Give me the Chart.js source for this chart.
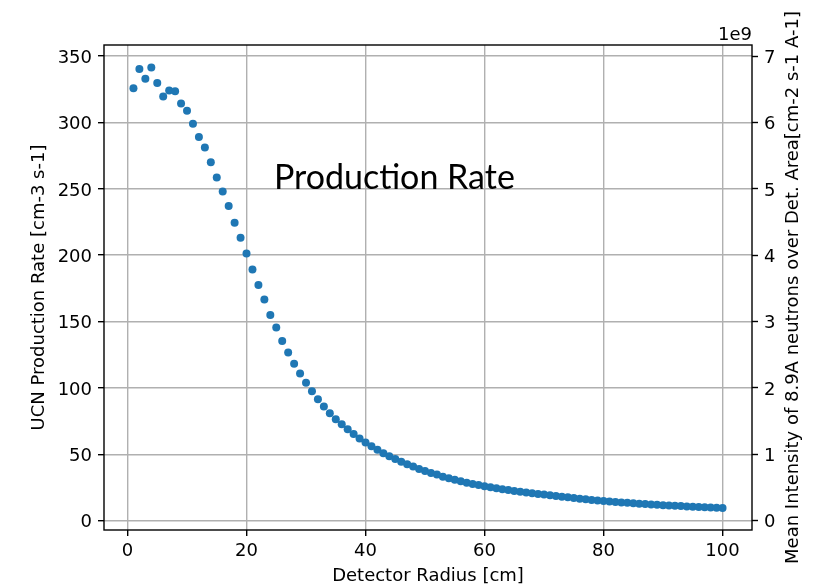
<!DOCTYPE html>
<html>
<head>
<meta charset="utf-8">
<script src="https://cdn.jsdelivr.net/npm/chart.js@4/dist/chart.umd.min.js"></script>
<style>
  html, body { margin: 0; padding: 0; background: #fff; }
  canvas { display: block; }
</style>
</head>
<body>
<canvas id="c" width="826" height="587"></canvas>
<script>
// ---- data ----
const radius = [1,2,3,4,5,6,7,8,9,10,11,12,13,14,15,16,17,18,19,20,
  21,22,23,24,25,26,27,28,29,30,31,32,33,34,35,36,37,38,39,40,
  41,42,43,44,45,46,47,48,49,50,51,52,53,54,55,56,57,58,59,60,
  61,62,63,64,65,66,67,68,69,70,71,72,73,74,75,76,77,78,79,80,
  81,82,83,84,85,86,87,88,89,90,91,92,93,94,95,96,97,98,99,100];
const productionRate = [325.9,340.4,332.9,341.4,329.7,319.6,324.1,323.6,314.3,308.8,
  299.0,289.0,281.1,270.1,258.5,248.0,237.0,224.4,213.2,201.2,
  189.2,177.6,166.6,155.0,145.5,135.4,126.6,118.1,110.8,103.8,
  97.5,91.5,85.9,80.9,76.4,72.6,68.9,65.3,61.8,58.8,
  56.1,53.3,50.8,48.5,46.5,44.4,42.5,40.7,38.9,37.4,
  35.9,34.7,33.1,31.9,30.7,29.7,28.6,27.6,26.8,25.9,
  25.2,24.4,23.7,23.0,22.3,21.7,21.1,20.6,20.1,19.6,
  19.05,18.5,18.0,17.5,17.0,16.5,16.05,15.6,15.2,14.8,
  14.4,14.05,13.7,13.35,13.0,12.7,12.4,12.1,11.85,11.6,
  11.35,11.1,10.9,10.7,10.5,10.3,10.1,9.9,9.7,9.5];
const xTicks = [0,20,40,60,80,100];
const yTicks = [0,50,100,150,200,250,300,350];
const y2Ticks = [0,1,2,3,4,5,6,7];
const xLimits = [-3.95, 104.95];
const yLimits = [-7.1, 358.4];
const y2PerY = 0.02;            // right axis (x1e9) per left-axis unit
const xLabel = 'Detector Radius [cm]';
const yLabel = 'UCN Production Rate [cm-3 s-1]';
const y2Label = 'Mean Intensity of 8.9A neutrons over Det. Area[cm-2 s-1 A-1]';
const annotationText = 'Production Rate';
const annotationAt = [24.6, 250];
const offsetText = '1e9';

// ---- styles ----
const FONT = '"DejaVu Sans", sans-serif';
const tickFont = { family: FONT, size: 18 };
const GRID = '#b0b0b0';
const LW = 1.4;

const overlay = {
  id: 'overlay',
  beforeDraw(chart) {
    const ctx = chart.ctx;
    ctx.save();
    ctx.fillStyle = '#fff';
    ctx.fillRect(0, 0, chart.width, chart.height);
    ctx.restore();
  },
  afterDatasetsDraw(chart) {
    const { ctx, chartArea: a, scales } = chart;
    ctx.save();
    ctx.strokeStyle = '#000';
    ctx.lineWidth = LW;
    ctx.strokeRect(a.left, a.top, a.right - a.left, a.bottom - a.top);

    ctx.fillStyle = '#000';
    ctx.font = '34px Lato, sans-serif';
    ctx.textAlign = 'left';
    ctx.textBaseline = 'alphabetic';
    ctx.fillText(annotationText, scales.x.getPixelForValue(annotationAt[0]), scales.y.getPixelForValue(annotationAt[1]));

    ctx.font = '18px ' + FONT;
    ctx.textAlign = 'right';
    ctx.textBaseline = 'alphabetic';
    ctx.fillText(offsetText, a.right, a.top - 5);

    ctx.textAlign = 'center';
    ctx.textBaseline = 'middle';
    ctx.fillText(xLabel, (a.left + a.right) / 2, a.bottom + 46);

    const cy = (a.top + a.bottom) / 2;
    ctx.save();
    ctx.translate(a.left - 65, cy);
    ctx.rotate(-Math.PI / 2);
    ctx.fillText(yLabel, 0, 0);
    ctx.restore();

    ctx.save();
    ctx.translate(a.right + 41, cy);
    ctx.rotate(-Math.PI / 2);
    ctx.fillText(y2Label, 0, 0);
    ctx.restore();
    ctx.restore();
  }
};

const setTicks = (vals) => (axis) => { axis.ticks = vals.map(v => ({ value: v })); };

new Chart(document.getElementById('c'), {
  type: 'scatter',
  data: {
    datasets: [{
      data: radius.map((r, i) => ({ x: r, y: productionRate[i] })),
      backgroundColor: '#1f77b4',
      borderWidth: 0,
      pointRadius: 4,
      pointHoverRadius: 4
    }]
  },
  options: {
    responsive: false,
    devicePixelRatio: 1,
    animation: false,
    events: [],
    layout: { padding: { left: 0, right: 0, top: 45, bottom: 0 } },
    plugins: { legend: { display: false }, tooltip: { enabled: false } },
    scales: {
      x: {
        type: 'linear', position: 'bottom',
        min: xLimits[0], max: xLimits[1],
        afterBuildTicks: setTicks(xTicks),
        afterFit: (s) => { s.height = 57; },
        grid: { color: GRID, lineWidth: LW, tickColor: '#000', tickWidth: LW, tickLength: 6 },
        border: { display: false },
        ticks: { font: tickFont, color: '#000', padding: 5, maxRotation: 0, autoSkip: false }
      },
      y: {
        type: 'linear', position: 'left',
        min: yLimits[0], max: yLimits[1],
        afterBuildTicks: setTicks(yTicks),
        afterFit: (s) => { s.width = 104; },
        grid: { color: GRID, lineWidth: LW, tickColor: '#000', tickWidth: LW, tickLength: 6 },
        border: { display: false },
        ticks: { font: tickFont, color: '#000', padding: 6, labelOffset: 2, autoSkip: false }
      },
      y2: {
        type: 'linear', position: 'right',
        min: yLimits[0] * y2PerY, max: yLimits[1] * y2PerY,
        afterBuildTicks: setTicks(y2Ticks),
        afterFit: (s) => { s.width = 74; },
        grid: { drawOnChartArea: false, tickColor: '#000', tickWidth: LW, tickLength: 6 },
        border: { display: false },
        ticks: { font: tickFont, color: '#000', padding: 6, labelOffset: 2, autoSkip: false }
      }
    }
  },
  plugins: [overlay]
});
</script>
</body>
</html>
